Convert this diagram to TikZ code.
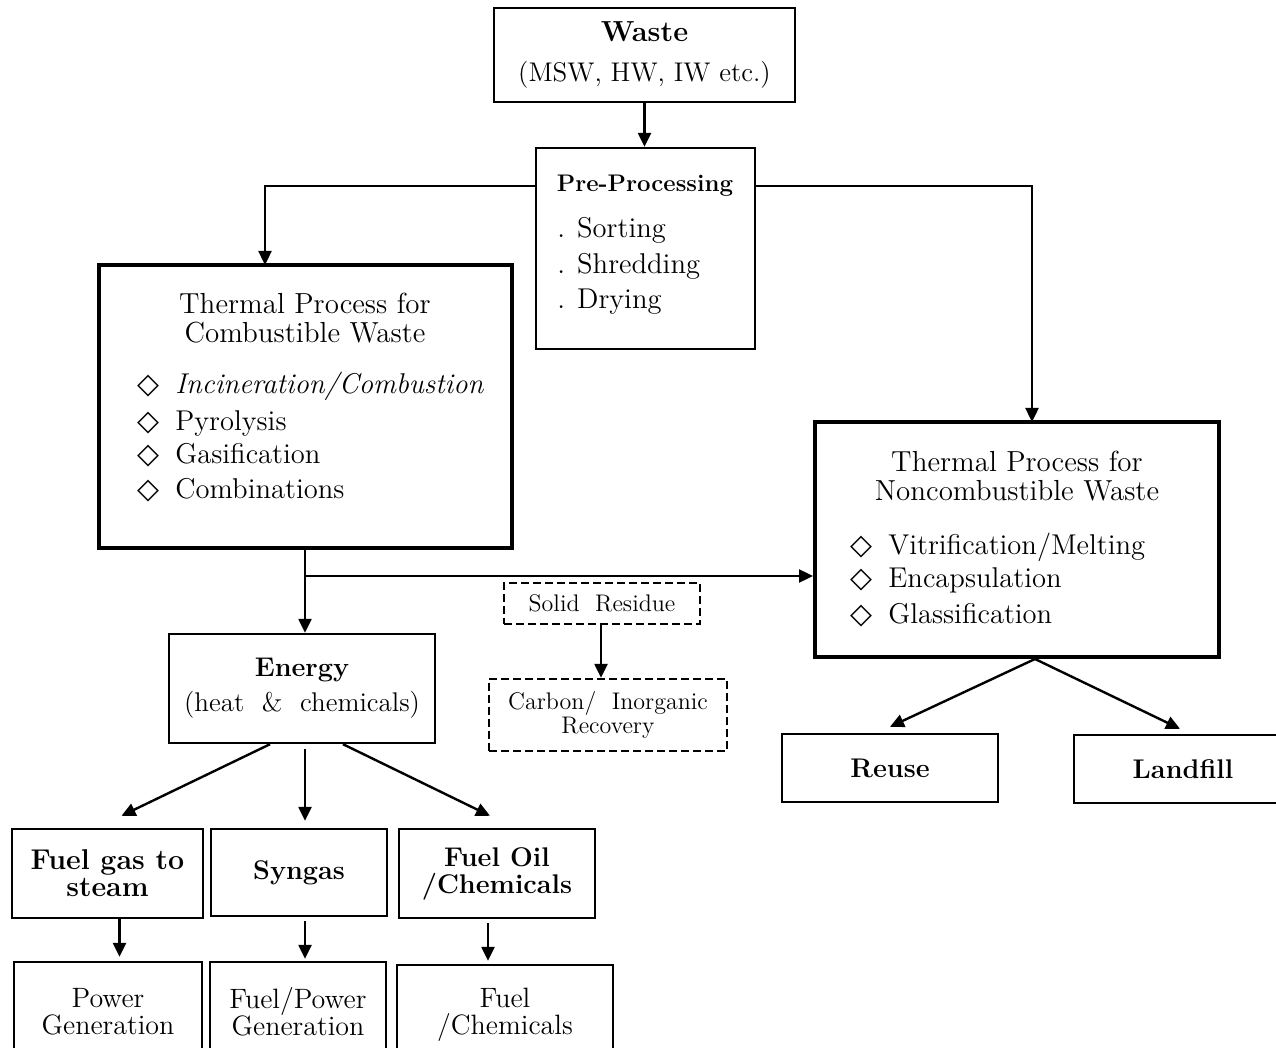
\documentclass[tikz,border=0pt]{standalone}
\usepackage{fontspec}
\newfontfamily\symfont{DejaVu Sans}
\usetikzlibrary{arrows.meta, positioning}

\newcommand{\dmd}{{\symfont\char"25C7}\hspace{8pt}}
\newcommand{\dotitem}{.\hspace{6pt}}

\begin{document}
\begin{tikzpicture}[
    x=0.5pt, y=-0.5pt,
    box/.style={rectangle, draw, line width=1.2pt, inner sep=0pt, align=center, font=\fontsize{13.5}{13.5}\selectfont},
    bigbox/.style={box, line width=2pt},
    dashbox/.style={box, dash pattern=on 4pt off 2pt, font=\fontsize{12}{12}\selectfont},
    arrow/.style={-{Triangle[length=7pt, width=6.5pt]}, line width=1.2pt},
    title/.style={inner sep=0pt, align=center, font=\fontsize{14.5}{14.5}\selectfont},
    item/.style={anchor=base west, inner sep=0pt, font=\fontsize{14.3}{14.3}\selectfont}
]
\useasboundingbox (0,0) rectangle (1276,1048);
\clip (0,0) rectangle (1276,1048);

% Top: waste and pre-processing
\node[box, minimum width=150.5pt, minimum height=47pt, font=\fontsize{13.5}{20}\selectfont] (waste) at (644.5,55) {{\fontsize{14.5}{14.5}\selectfont\textbf{Waste}}\\(MSW, HW, IW etc.)};

\node[box, minimum width=109.5pt, minimum height=100.5pt] (pre) at (645.5,248.5) {};
\node[anchor=base, inner sep=0pt, font=\fontsize{12}{12}\selectfont\bfseries] (pretitle) at (645,192) {Pre-Processing};
\node[item] (sorting) at (557,238) {\dotitem Sorting};
\node[item] (shredding) at (557,274) {\dotitem Shredding};
\node[item] (drying) at (557,309) {\dotitem Drying};

% Thermal processes
\node[bigbox, minimum width=206.5pt, minimum height=141.5pt] (comb) at (305.5,406.5) {};
\node[title] (combtitle) at (305,318.5) {Thermal Process for\\Combustible Waste};
\node[item] (incin) at (137,394) {\dmd\textit{Incineration/Combustion}};
\node[item] (pyro) at (137,430) {\dmd Pyrolysis};
\node[item] (gasif) at (137,464) {\dmd Gasification};
\node[item] (combi) at (137,499) {\dmd Combinations};

\node[bigbox, minimum width=202pt, minimum height=117.5pt] (noncomb) at (1017,539.5) {};
\node[title] (noncombtitle) at (1017,476.5) {Thermal Process for\\Noncombustible Waste};
\node[item] (vitri) at (850,554) {\dmd Vitrification/Melting};
\node[item] (encap) at (850,588) {\dmd Encapsulation};
\node[item] (glass) at (850,623) {\dmd Glassification};

% Residue (dashed)
\node[dashbox, minimum width=98pt, minimum height=20.5pt] (solid) at (602,603.5) {Solid~ Residue};
\node[dashbox, minimum width=119pt, minimum height=36pt] (carbon) at (608,715) {Carbon/~ Inorganic\\Recovery};

% Energy and products
\node[box, minimum width=133pt, minimum height=54.5pt, font=\fontsize{13.5}{17.5}\selectfont] (energy) at (302,688.5) {\textbf{Energy}\\(heat~ \&~ chemicals)};

\node[box, minimum width=95.5pt, minimum height=44.5pt, font=\fontsize{14.3}{13.5}\selectfont\bfseries] (fuelgas) at (107.5,873.5) {Fuel gas to\\steam};
\node[box, minimum width=88pt, minimum height=43.5pt, font=\fontsize{13.5}{13.5}\selectfont\bfseries] (syngas) at (299,872.5) {Syngas};
\node[box, minimum width=98pt, minimum height=44.5pt, font=\fontsize{13.5}{13.5}\selectfont\bfseries] (fueloil) at (497,873.5) {Fuel Oil\\/Chemicals};

\node[box, minimum width=94pt, minimum height=50pt, font=\fontsize{14}{13.5}\selectfont] (power) at (108,1012) {Power\\Generation};
\node[box, minimum width=88pt, minimum height=50pt, font=\fontsize{14}{13.5}\selectfont] (fuelpower) at (298,1012) {Fuel/Power\\Generation};
\node[box, minimum width=108pt, minimum height=50pt, font=\fontsize{14}{13.5}\selectfont] (fuelchem) at (505,1015) {Fuel\\/Chemicals};

% Final disposal
\node[box, minimum width=108pt, minimum height=34pt, font=\fontsize{13.5}{13.5}\selectfont\bfseries] (reuse) at (890,768) {Reuse};
\node[box, minimum width=109pt, minimum height=34pt, font=\fontsize{13.5}{13.5}\selectfont\bfseries] (landfill) at (1183,769) {Landfill};

% Coordinates for connector ends
\coordinate (combin) at (265,265);
\coordinate (noncombin) at (1032,422);
\coordinate (split) at (305,576);

% Arrows - top
\draw[arrow] (waste.south) -- (waste.south |- pre.north);
\draw[arrow] (pre.west |- pretitle.center) -| (combin);
\draw[arrow] (pre.east |- pretitle.center) -| (noncombin);

% Arrows - from combustible process
\draw[line width=1.2pt] (comb.south -| split) -- (split);
\draw[arrow] (split) -- (noncomb.west |- split);
\draw[arrow] (split) -- (split |- energy.north);
\draw[arrow] (solid.south -| 601,0) -- (carbon.north -| 601,0);

% Arrows - energy to products
\draw[arrow] ([xshift=-16pt]energy.south) -- ([xshift=7pt, yshift=6pt]fuelgas.north);
\draw[arrow, shorten <=2.5pt, shorten >=3.5pt] ([xshift=1.5pt]energy.south) -- ([xshift=1.5pt]energy.south |- syngas.north);
\draw[arrow] ([xshift=20.5pt]energy.south) -- ([xshift=-3.5pt, yshift=6pt]fueloil.north);

\draw[arrow, shorten >=2pt] ([xshift=6pt]fuelgas.south) -- ([xshift=6pt]fuelgas.south |- power.north);
\draw[arrow, shorten <=2pt, shorten >=1pt] ([xshift=3pt]syngas.south) -- ([xshift=3pt]syngas.south |- fuelpower.north);
\draw[arrow, shorten <=2pt, shorten >=1.5pt] ([xshift=-4.5pt]fueloil.south) -- ([xshift=-4.5pt]fueloil.south |- fuelchem.north);

% Arrows - noncombustible to disposal
\draw[arrow] ([xshift=9pt]noncomb.south) -- ([yshift=3pt]reuse.north);
\draw[arrow] ([xshift=9pt]noncomb.south) -- ([xshift=-1.5pt, yshift=2.5pt]landfill.north);

\end{tikzpicture}
\end{document}
